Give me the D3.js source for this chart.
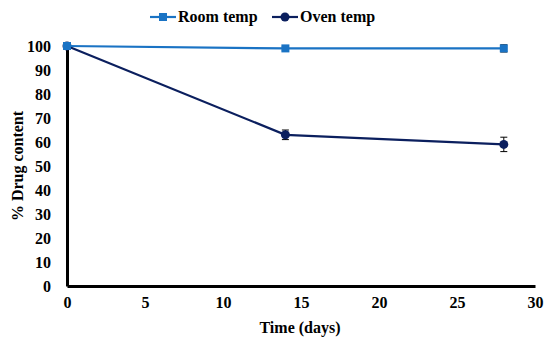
<!DOCTYPE html>
<html><head><meta charset="utf-8">
<script src="https://cdn.jsdelivr.net/npm/d3@7"></script>
<style>body{margin:0;background:#fff}svg{display:block}
svg text{font-family:"Liberation Serif","Times New Roman",serif !important;font-weight:bold}</style>
</head><body>
<svg id="c" width="550" height="344"></svg>
<script>
const days = [0, 14, 28];
const roomTemp = [100, 99, 99];
const roomErr = [0, 0.8, 1.5];
const ovenTemp = [100, 63, 59];
const ovenErr = [0, 2, 3];
const xTicks = [0, 5, 10, 15, 20, 25, 30];
const yTicks = [0, 10, 20, 30, 40, 50, 60, 70, 80, 90, 100];
const seriesNames = ["Room temp", "Oven temp"];

const svg = d3.select("#c");
const x = d3.scaleLinear().domain([0, 30]).range([67, 535]);
const y = d3.scaleLinear().domain([0, 100]).range([286, 46]);

const xAxis = svg.append("g").attr("transform", "translate(0,286)")
  .call(d3.axisBottom(x).tickValues(xTicks).tickSize(0).tickPadding(11));
const yAxis = svg.append("g").attr("transform", "translate(67,0)")
  .call(d3.axisLeft(y).tickValues(yTicks).tickSize(0).tickPadding(16));
[xAxis, yAxis].forEach(g => {
  g.select(".domain").attr("stroke", "#000").attr("stroke-width", 3);
  g.selectAll("text").attr("font-size", 16).attr("fill", "#000");
});

svg.append("text").attr("x", 300).attr("y", 333).attr("text-anchor", "middle")
  .attr("font-size", 16).text("Time (days)");
svg.append("text").attr("transform", "translate(23,166) rotate(-90)").attr("text-anchor", "middle")
  .attr("font-size", 16).text("% Drug content");

const series = [
  {name: seriesNames[0], vals: roomTemp, err: roomErr, color: "#1a73c4", shape: "square"},
  {name: seriesNames[1], vals: ovenTemp, err: ovenErr, color: "#0b1f5e", shape: "circle"}
];
const line = d3.line().x((d, i) => x(days[i])).y(d => y(d));

function marker(g, s, cx, cy) {
  if (s.shape === "square") {
    g.append("rect").attr("x", cx - 4).attr("y", cy - 4).attr("width", 8).attr("height", 8).attr("fill", s.color);
  } else {
    g.append("circle").attr("cx", cx).attr("cy", cy).attr("r", 4.5).attr("fill", s.color);
  }
}

[series[1], series[0]].forEach(s => {
  const g = svg.append("g");
  s.vals.forEach((v, i) => {
    if (s.err[i] > 0) {
      const cx = x(days[i]);
      g.append("line").attr("x1", cx).attr("x2", cx).attr("y1", y(v + s.err[i])).attr("y2", y(v - s.err[i]))
        .attr("stroke", "#000").attr("stroke-width", 1);
      [v + s.err[i], v - s.err[i]].forEach(e => g.append("line")
        .attr("x1", cx - 3.5).attr("x2", cx + 3.5).attr("y1", y(e)).attr("y2", y(e))
        .attr("stroke", "#000").attr("stroke-width", 1));
    }
  });
  g.append("path").datum(s.vals).attr("d", line).attr("fill", "none")
    .attr("stroke", s.color).attr("stroke-width", 2.2);
  s.vals.forEach((v, i) => marker(g, s, x(days[i]), y(v)));
});

const legX = [150, 272];
series.forEach((s, i) => {
  const g = svg.append("g");
  const lx = legX[i], ly = 17;
  g.append("line").attr("x1", lx).attr("x2", lx + 26).attr("y1", ly).attr("y2", ly)
    .attr("stroke", s.color).attr("stroke-width", 2.2);
  marker(g, s, lx + 13, ly);
  g.append("text").attr("x", lx + 28).attr("y", ly + 5)
    .attr("font-size", 16).text(s.name);
});
</script>
</body></html>
